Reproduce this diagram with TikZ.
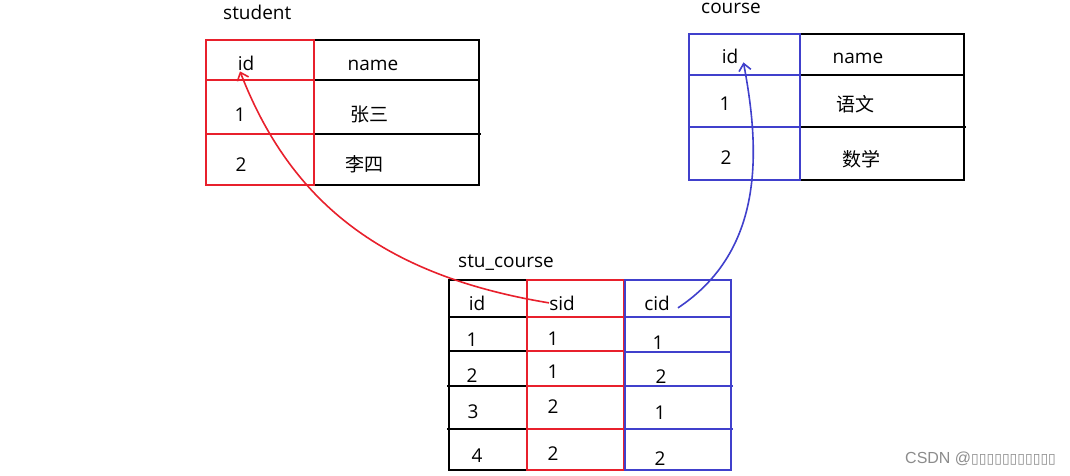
\documentclass[tikz,border=0pt]{standalone}
\usepackage{fontspec}
\setmainfont{Open Sans}
\newfontfamily\cjk{Noto Sans CJK SC}
\newfontfamily\markfont{DejaVu Sans}
\newfontfamily\csdnfont{Liberation Sans}
\usetikzlibrary{arrows.meta}
\definecolor{linkred}{RGB}{232,32,44}
\definecolor{linkblue}{RGB}{64,64,204}
\tikzset{
  tabline/.style={line width=2.3pt, black},
  redcol/.style={line width=2.3pt, linkred},
  bluecol/.style={line width=2.3pt, linkblue},
  celltext/.style={inner sep=0pt, anchor=base, font=\fontsize{19}{22}\selectfont},
  cjktext/.style={celltext, font=\cjk\fontsize{19}{22}\selectfont},
  tabtitle/.style={inner sep=0pt, anchor=base west, font=\fontsize{19}{22}\selectfont},
  link/.style={line width=1.6pt, -{Straight Barb[length=7pt,width=12pt]}},
}
\begin{document}
\begin{tikzpicture}[x=1pt,y=-1pt]
  \useasboundingbox[fill=white] (0,0) rectangle (1070,475);

  % student table
  \begin{scope}
    \node[tabtitle] (st-title) at (223,19) {student};
    \draw[tabline] (206,40) rectangle (479,185);
    \draw[tabline] (314,80) -- (479,80) (314,134) -- (481,134);
    \draw[redcol] (206,40) rectangle (314,185) (206,80) -- (314,80) (206,134) -- (314,134);
    \node[celltext] (st-id) at (246,70) {id};
    \node[celltext] (st-name) at (373,70) {name};
    \node[celltext] (st-1) at (240,121) {1};
    \node[cjktext] (st-n1) at (369,121) {张三};
    \node[celltext] (st-2) at (241,171) {2};
    \node[cjktext] (st-n2) at (364,171) {李四};
  \end{scope}

  % course table
  \begin{scope}
    \node[tabtitle] (co-title) at (701,13) {course};
    \draw[tabline] (689,34) rectangle (964,180);
    \draw[tabline] (800,75) -- (964,75) (800,127) -- (966,127);
    \draw[bluecol] (689,34) rectangle (800,180) (689,75) -- (800,75) (689,127) -- (800,127);
    \node[celltext] (co-id) at (730,63) {id};
    \node[celltext] (co-name) at (858,63) {name};
    \node[celltext] (co-1) at (725,110) {1};
    \node[cjktext] (co-n1) at (855,111) {语文};
    \node[celltext] (co-2) at (726,164) {2};
    \node[cjktext] (co-n2) at (861,166) {数学};
  \end{scope}

  % stu_course table
  \begin{scope}
    \node[tabtitle] (sc-title) at (458,267) {stu\_course};
    \draw[tabline] (449,280) rectangle (527,470);
    \draw[tabline] (449,317) -- (527,317) (449,351) -- (527,351)
                   (447,386) -- (527,386) (447,429) -- (527,429);
    \draw[redcol] (527,280) rectangle (624,470) (527,317) -- (624,317)
                  (527,351) -- (624,351) (527,386) -- (624,386) (527,429) -- (624,429);
    \draw[bluecol] (625,280) rectangle (731,470) (625,317) -- (731,317)
                   (625,352) -- (731,352) (625,386) -- (733,386) (625,429) -- (733,429);
    \node[celltext] (sc-id) at (477,310) {id};
    \node[celltext] (sc-sid) at (562,310) {sid};
    \node[celltext] (sc-cid) at (657,310) {cid};
    % rows
    \node[celltext] (sc-a1) at (472,346) {1};
    \node[celltext] (sc-b1) at (553,345) {1};
    \node[celltext] (sc-c1) at (658,349) {1};
    \node[celltext] (sc-a2) at (472,382) {2};
    \node[celltext] (sc-b2) at (553,378) {1};
    \node[celltext] (sc-c2) at (661,383) {2};
    \node[celltext] (sc-a3) at (473,418) {3};
    \node[celltext] (sc-b3) at (553,413) {2};
    \node[celltext] (sc-c3) at (660,419) {1};
    \node[celltext] (sc-a4) at (477,462) {4};
    \node[celltext] (sc-b4) at (553,460) {2};
    \node[celltext] (sc-c4) at (660,465) {2};
  \end{scope}

  % links between the tables
  \draw[link, linkred] (sc-sid.west) .. controls (380,275) and (290,200) .. ([xshift=-6pt,yshift=-1pt]st-id.south);
  \draw[link, linkblue] ([xshift=8pt,yshift=-5pt]sc-cid.east) .. controls (765,250) and (760,150) .. ([xshift=5pt,yshift=1pt]co-id.south east);

  % watermark
  \node[inner sep=0pt, anchor=base west, text=black!45, font=\csdnfont\fontsize{16}{18}\selectfont] (mark) at (905,463)
    {CSDN @{\markfont\fontsize{14}{18}\selectfont ▯▯▯▯▯▯▯▯▯▯▯}};
\end{tikzpicture}
\end{document}
